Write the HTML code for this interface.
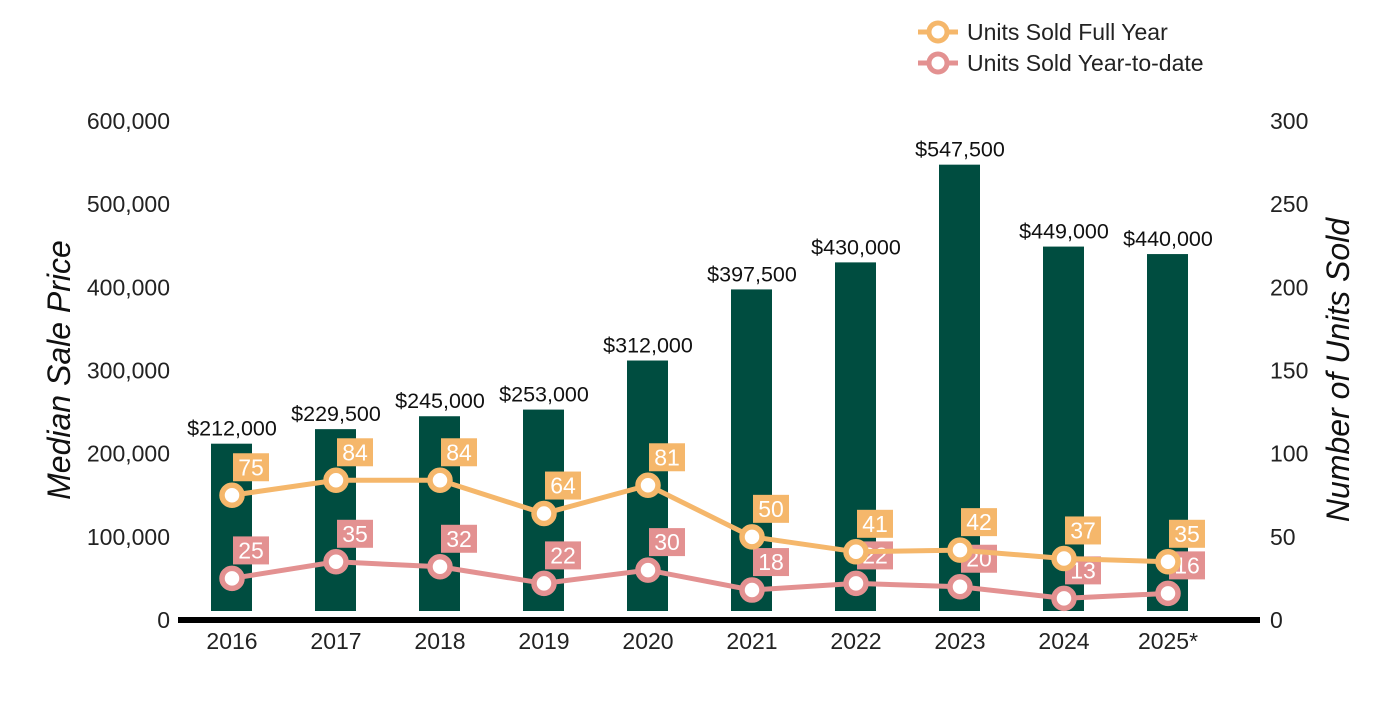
<!DOCTYPE html>
<html><head><meta charset="utf-8"><style>
body{margin:0;background:#fff;}
svg text{font-family:"Liberation Sans",Arial,sans-serif;}
</style></head><body>
<svg id="chart" width="1400" height="700" xmlns="http://www.w3.org/2000/svg">
<g id="legend">
 <g>
  <line x1="918" y1="32" x2="958" y2="32" stroke="#F5B76B" stroke-width="5"/>
  <circle cx="938" cy="32" r="9" fill="#fff" stroke="#F5B76B" stroke-width="5"/>
  <text x="967" y="40" font-size="23" fill="#222">Units Sold Full Year</text>
 </g>
 <g>
  <line x1="918" y1="63" x2="958" y2="63" stroke="#E39191" stroke-width="5"/>
  <circle cx="938" cy="63" r="9" fill="#fff" stroke="#E39191" stroke-width="5"/>
  <text x="967" y="71" font-size="23" fill="#222">Units Sold Year-to-date</text>
 </g>
</g>
<text transform="translate(70,370) rotate(-90)" text-anchor="middle" font-size="32" font-style="italic" fill="#111">Median Sale Price</text>
<text transform="translate(1349,370) rotate(-90)" text-anchor="middle" font-size="32" font-style="italic" fill="#111">Number of Units Sold</text>
<g id="g"></g>
</svg>
<script>
const categories=["2016","2017","2018","2019","2020","2021","2022","2023","2024","2025*"];
const prices=[212000,229500,245000,253000,312000,397500,430000,547500,449000,440000];
const fullYear=[75,84,84,64,81,50,41,42,37,35];
const ytd=[25,35,32,22,30,18,22,20,13,16];
const leftTicks=[0,100000,200000,300000,400000,500000,600000];
const rightTicks=[0,50,100,150,200,250,300];
const NS="http://www.w3.org/2000/svg";
const g=document.getElementById('g');
const y0=620,yTop=121;
const yL=v=>y0-v*(y0-yTop)/600000;
const yR=v=>y0-v*(y0-yTop)/300;
const xC=i=>232+i*104;
function mk(t,a,txt){const e=document.createElementNS(NS,t);for(const k in a)e.setAttribute(k,a[k]);if(txt!==undefined)e.textContent=txt;g.appendChild(e);return e;}
leftTicks.forEach(v=>{const e=mk('text',{x:170,y:yL(v)+8,'text-anchor':'end','font-size':23,fill:'#222'},v.toLocaleString('en-US'));

});
rightTicks.forEach(v=>{const e=mk('text',{x:1270,y:yR(v)+8,'font-size':23,fill:'#222'},String(v));

});
prices.forEach((p,i)=>{
 const b=mk('rect',{x:xC(i)-21,y:yL(p),width:41,height:611-yL(p),fill:'#004D40'});
 
 
 const t=mk('text',{x:xC(i),y:yL(p)-8,'text-anchor':'middle','font-size':21.5,fill:'#111'},'$'+p.toLocaleString('en-US'));
 
 
 const c=mk('text',{x:xC(i),y:649,'text-anchor':'middle','font-size':23,fill:'#222'},categories[i]);
 
 
});
const ax=mk('line',{x1:178,y1:620,x2:1260,y2:620,stroke:'#000','stroke-width':6});


function series(vals,color,name){
 const pl=mk('polyline',{points:vals.map((v,i)=>xC(i)+','+yR(v)).join(' '),fill:'none',stroke:color,'stroke-width':5});
 
 
 vals.forEach((v,i)=>{
  const r=mk('rect',{x:xC(i)+1,y:yR(v)-42,width:36,height:28,fill:color});
  
  
  const t=mk('text',{x:xC(i)+19,y:yR(v)-20,'text-anchor':'middle','font-size':23,fill:'#fff'},String(v));
  
  
 });
 vals.forEach((v,i)=>{
  const c=mk('circle',{cx:xC(i),cy:yR(v),r:10,fill:'#fff',stroke:color,'stroke-width':5.5});
  
  
 });
}
series(ytd,'#E39191','ytd');
series(fullYear,'#F5B76B','full-year');
</script>
</body></html>
